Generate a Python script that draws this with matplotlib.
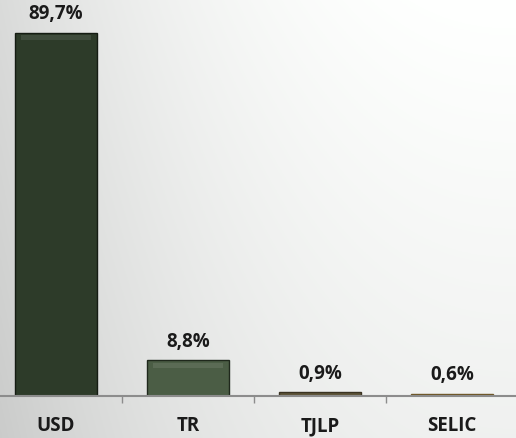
import numpy as np
import matplotlib.pyplot as plt

categories = ["USD", "TR", "TJLP", "SELIC"]
values = [89.7, 8.8, 0.9, 0.6]
labels = ["89,7%", "8,8%", "0,9%", "0,6%"]
colors = ["#2d3b29", "#4b5d45", "#5e5438", "#b08a40"]
edges = ["#151c13", "#1f281c", "#3a3322", "#6e5626"]

plt.rcParams['font.family'] = ['Open Sans', 'DejaVu Sans']

fig = plt.figure(figsize=(5.16, 4.39), dpi=100)

# background gradient: grey on the left, white towards the upper right
bg = fig.add_axes([0, 0, 1, 1], zorder=0)
gx, gy = np.meshgrid(np.linspace(0, 1, 300), np.linspace(1, 0, 300))
shade = 1 - 0.145 * (1 - gx) ** 2.3 - 0.06 * (1 - gy)
rgb = np.dstack([shade, shade * 1.005, shade])
bg.imshow(np.clip(rgb, 0, 1), extent=[0, 1, 0, 1], aspect="auto")
bg.axis("off")

ax = fig.add_axes([0, 42 / 439, 1, 397 / 439], zorder=1)
ax.patch.set_alpha(0)
x = np.arange(len(categories))
bars = ax.bar(x, values, width=0.62, color=colors, edgecolor=edges, linewidth=1.0)

# soft bevel highlight at the top of the taller bars
for b in bars:
    h = b.get_height()
    if h > 5:
        ax.bar(b.get_x() + b.get_width() / 2, 1.2, width=b.get_width() * 0.86,
               bottom=h - 1.8, color="white", alpha=0.09, linewidth=0)

for xi, v, lab in zip(x, values, labels):
    ax.text(xi, v + 4.9, lab, ha="center", va="center", fontsize=13.5,
            fontweight="bold", color="#1a1a1a")

ax.set_xlim(-56 / 132, (516 - 56) / 132)
ax.set_ylim(0, 98)
ax.set_yticks([])
ax.set_xticks(x)
ax.set_xticklabels(categories, fontsize=13.5, fontweight="bold", color="#1a1a1a")
ax.tick_params(axis="x", length=0, pad=14)
ax.set_xticks(x[:-1] + 0.5, minor=True)
ax.tick_params(axis="x", which="minor", length=5, color="#8c8c8c", width=1)
for s in ["top", "right", "left"]:
    ax.spines[s].set_visible(False)
ax.spines["bottom"].set_color("#8c8c8c")
ax.spines["bottom"].set_linewidth(1.5)

fig.savefig("out.png", dpi=100)
